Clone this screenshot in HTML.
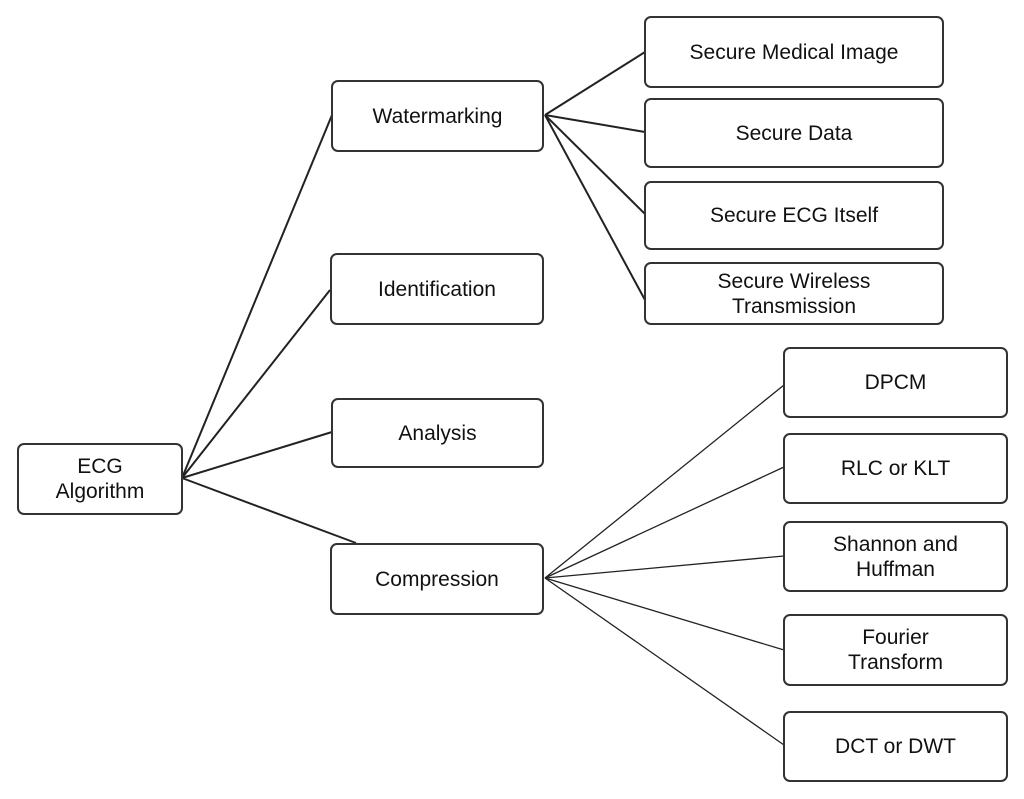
<!DOCTYPE html>
<html><head><style>
html,body{margin:0;padding:0;background:#fff;}
.b{position:absolute;box-sizing:border-box;border:2px solid #333;border-radius:7px;background:#fff;display:flex;align-items:center;justify-content:center;text-align:center;font-family:"Liberation Sans",sans-serif;font-size:21px;color:#111;line-height:25px;}
</style></head><body>
<div style="position:relative;width:1024px;height:799px;overflow:hidden;">
<svg width="1024" height="799" style="position:absolute;left:0;top:0" stroke="#222" stroke-width="2" fill="none">
<line x1="182" y1="478" x2="332" y2="115"/>
<line x1="182" y1="478" x2="330" y2="290"/>
<line x1="182" y1="478" x2="332" y2="432"/>
<line x1="182" y1="478" x2="356" y2="543"/>
<line x1="545" y1="115" x2="645" y2="52"/>
<line x1="545" y1="115" x2="645" y2="132"/>
<line x1="545" y1="115" x2="645" y2="214"/>
<line x1="545" y1="115" x2="645" y2="300"/>
<g stroke-width="1.3">
<line x1="545" y1="578" x2="784" y2="385"/>
<line x1="545" y1="578" x2="784" y2="467"/>
<line x1="545" y1="578" x2="784" y2="556"/>
<line x1="545" y1="578" x2="784" y2="650"/>
<line x1="545" y1="578" x2="784" y2="745"/>
</g>
</svg>
<div class="b" style="left:17px;top:443px;width:166px;height:72px;">ECG<br>Algorithm</div>
<div class="b" style="left:331px;top:80px;width:213px;height:72px;">Watermarking</div>
<div class="b" style="left:330px;top:253px;width:214px;height:72px;">Identification</div>
<div class="b" style="left:331px;top:398px;width:213px;height:70px;">Analysis</div>
<div class="b" style="left:330px;top:543px;width:214px;height:72px;">Compression</div>
<div class="b" style="left:644px;top:16px;width:300px;height:72px;">Secure Medical Image</div>
<div class="b" style="left:644px;top:98px;width:300px;height:70px;">Secure Data</div>
<div class="b" style="left:644px;top:181px;width:300px;height:69px;">Secure ECG Itself</div>
<div class="b" style="left:644px;top:262px;width:300px;height:63px;">Secure Wireless<br>Transmission</div>
<div class="b" style="left:783px;top:347px;width:225px;height:71px;">DPCM</div>
<div class="b" style="left:783px;top:433px;width:225px;height:71px;">RLC or KLT</div>
<div class="b" style="left:783px;top:521px;width:225px;height:71px;">Shannon and<br>Huffman</div>
<div class="b" style="left:783px;top:614px;width:225px;height:72px;">Fourier<br>Transform</div>
<div class="b" style="left:783px;top:711px;width:225px;height:71px;">DCT or DWT</div>
</div>
</body></html>
